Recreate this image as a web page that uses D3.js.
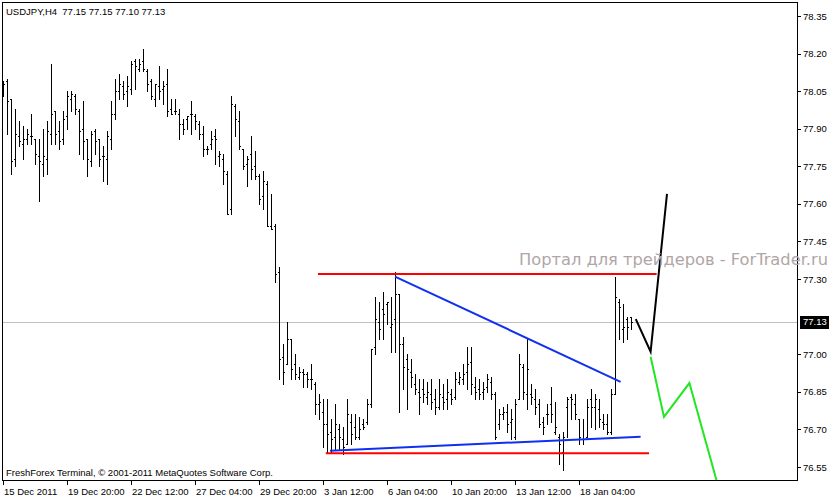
<!DOCTYPE html>
<html>
<head>
<meta charset="utf-8">
<script src="https://cdn.jsdelivr.net/npm/d3@7"></script>
<style>
  body { margin: 0; background: #fff; }
  svg { display: block; }
</style>
</head>
<body>
<div id="chart"></div>
<script>
//Constantes
const width = 835
const height = 498
const frame = { left: 2, top: 2, right: 797, bottom: 480 }

//Donnees
const symbol = "USDJPY,H4"
const dateLabels = ["15 Dec 2011", "19 Dec 20:00", "22 Dec 12:00", "27 Dec 04:00", "29 Dec 20:00",
  "3 Jan 12:00", "6 Jan 04:00", "10 Jan 20:00", "13 Jan 12:00", "18 Jan 04:00"]
const dateIdx = [0, 16, 32, 48, 64, 80, 96, 112, 128, 144]
const priceTicks = [78.35, 78.20, 78.05, 77.90, 77.75, 77.60, 77.45, 77.30, 77.00, 76.85, 76.70, 76.55]
const lastPrice = 77.13

const opens = [78.03, 78.09, 78.02, 77.78, 77.87, 77.84, 77.86, 77.87, 77.86, 77.79,
  77.76, 77.78, 77.88, 77.97, 77.89, 77.86, 77.95, 78.02, 78.03, 77.97,
  77.90, 77.86, 77.77, 77.89, 77.86, 77.79, 77.78, 77.86, 77.96, 78.05,
  78.07, 78.05, 78.06, 78.17, 78.14, 78.17, 78.13, 78.09, 78.02, 78.07,
  78.06, 78.08, 77.98, 77.97, 77.96, 77.92, 77.94, 77.96, 77.95, 77.92,
  77.88, 77.82, 77.84, 77.87, 77.79, 77.78, 77.72, 77.58, 77.99, 77.93,
  77.82, 77.76, 77.80, 77.75, 77.71, 77.63, 77.68, 77.51, 77.51, 77.33,
  76.99, 76.96, 77.06, 76.96, 76.91, 76.93, 76.92, 76.90, 76.88, 76.80,
  76.77, 76.72, 76.69, 76.67, 76.70, 76.66, 76.64, 76.73, 76.71, 76.67,
  76.72, 76.73, 76.80, 77.03, 77.13, 77.18, 77.20, 77.11, 77.14, 77.24,
  77.04, 76.98, 76.93, 76.88, 76.85, 76.86, 76.83, 76.84, 76.82, 76.79,
  76.83, 76.82, 76.84, 76.83, 76.89, 76.90, 76.93, 76.97, 76.87, 76.86,
  76.85, 76.87, 76.89, 76.84, 76.72, 76.76, 76.77, 76.73, 76.67, 76.82,
  76.95, 76.84, 76.84, 76.82, 76.80, 76.73, 76.76, 76.80, 76.69, 76.67,
  76.61, 76.79, 76.83, 76.80, 76.74, 76.66, 76.67, 76.82, 76.79, 76.78,
  76.73, 76.72, 76.69, 76.84, 77.21, 77.10, 77.14, 77.15]
const highs = [78.09, 78.10, 78.02, 77.98, 77.93, 77.91, 77.90, 77.96, 77.86, 77.86,
  77.90, 77.93, 78.16, 77.97, 77.93, 77.97, 78.05, 78.05, 78.04, 77.98,
  78.01, 77.86, 77.89, 77.90, 77.86, 77.83, 77.89, 78.01, 78.10, 78.12,
  78.09, 78.11, 78.17, 78.18, 78.18, 78.22, 78.14, 78.10, 78.08, 78.15,
  78.09, 78.14, 78.02, 78.02, 77.98, 77.94, 77.95, 78.01, 77.96, 77.93,
  77.91, 77.83, 77.89, 77.90, 77.81, 77.80, 77.73, 78.03, 78.00, 77.97,
  77.82, 77.79, 77.87, 77.81, 77.72, 77.73, 77.69, 77.64, 77.52, 77.35,
  77.04, 77.13, 77.06, 77.00, 76.95, 76.94, 76.93, 76.96, 76.89, 76.84,
  76.82, 76.82, 76.74, 76.80, 76.72, 76.71, 76.82, 76.76, 76.76, 76.75,
  76.74, 76.82, 77.02, 77.23, 77.21, 77.25, 77.21, 77.23, 77.33, 77.24,
  77.07, 77.00, 76.98, 76.92, 76.90, 76.90, 76.89, 76.90, 76.86, 76.90,
  76.88, 76.90, 76.86, 76.93, 76.93, 76.96, 77.03, 77.03, 76.91, 76.90,
  76.89, 76.92, 76.91, 76.85, 76.78, 76.79, 76.80, 76.78, 76.82, 77.00,
  76.96, 77.06, 76.88, 76.86, 76.82, 76.75, 76.80, 76.87, 76.81, 76.68,
  76.69, 76.83, 76.84, 76.84, 76.74, 76.74, 76.82, 76.86, 76.84, 76.82,
  76.76, 76.76, 76.86, 77.31, 77.22, 77.20, 77.15, 77.15]
const lows = [78.03, 77.88, 77.72, 77.75, 77.83, 77.78, 77.84, 77.84, 77.76, 77.61,
  77.71, 77.72, 77.84, 77.84, 77.82, 77.84, 77.90, 77.97, 77.96, 77.80,
  77.78, 77.71, 77.75, 77.80, 77.75, 77.69, 77.68, 77.82, 77.94, 78.02,
  78.02, 77.99, 78.04, 78.06, 78.13, 78.13, 78.05, 78.02, 77.99, 78.02,
  78.00, 77.95, 77.96, 77.96, 77.86, 77.88, 77.90, 77.88, 77.90, 77.86,
  77.79, 77.80, 77.82, 77.76, 77.75, 77.68, 77.56, 77.56, 77.87, 77.82,
  77.74, 77.67, 77.70, 77.70, 77.60, 77.58, 77.51, 77.50, 77.29, 76.90,
  76.88, 76.96, 76.90, 76.90, 76.90, 76.87, 76.87, 76.86, 76.76, 76.74,
  76.63, 76.61, 76.61, 76.62, 76.62, 76.60, 76.64, 76.64, 76.66, 76.66,
  76.70, 76.72, 76.79, 77.00, 77.06, 77.06, 77.12, 77.01, 77.01, 76.77,
  76.86, 76.78, 76.87, 76.84, 76.76, 76.81, 76.80, 76.78, 76.76, 76.78,
  76.78, 76.78, 76.80, 76.82, 76.88, 76.88, 76.86, 76.84, 76.82, 76.82,
  76.82, 76.85, 76.82, 76.66, 76.70, 76.74, 76.69, 76.66, 76.66, 76.82,
  76.82, 76.78, 76.80, 76.76, 76.71, 76.68, 76.72, 76.73, 76.68, 76.56,
  76.54, 76.67, 76.74, 76.74, 76.64, 76.64, 76.67, 76.71, 76.70, 76.71,
  76.70, 76.68, 76.68, 76.84, 77.06, 77.05, 77.06, 77.10]
const closes = [78.08, 78.01, 77.77, 77.88, 77.85, 77.86, 77.88, 77.87, 77.80, 77.77,
  77.79, 77.89, 77.96, 77.88, 77.85, 77.94, 78.03, 78.04, 77.98, 77.89,
  77.85, 77.78, 77.88, 77.85, 77.78, 77.79, 77.87, 77.96, 78.05, 78.08,
  78.04, 78.07, 78.16, 78.15, 78.16, 78.14, 78.08, 78.03, 78.08, 78.05,
  78.07, 77.97, 77.96, 77.97, 77.92, 77.90, 77.95, 77.96, 77.93, 77.88,
  77.82, 77.82, 77.86, 77.86, 77.80, 77.73, 77.56, 78.00, 77.94, 77.83,
  77.75, 77.78, 77.74, 77.71, 77.62, 77.69, 77.51, 77.50, 77.32, 76.98,
  76.93, 77.06, 76.94, 76.92, 76.93, 76.92, 76.90, 76.90, 76.80, 76.81,
  76.72, 76.68, 76.66, 76.72, 76.67, 76.63, 76.76, 76.68, 76.67, 76.70,
  76.71, 76.80, 77.02, 77.14, 77.10, 77.16, 77.21, 77.12, 77.24, 77.04,
  76.95, 76.94, 76.91, 76.86, 76.83, 76.84, 76.85, 76.81, 76.79, 76.84,
  76.81, 76.85, 76.82, 76.90, 76.91, 76.92, 76.96, 76.88, 76.85, 76.84,
  76.86, 76.90, 76.84, 76.67, 76.76, 76.77, 76.72, 76.74, 76.80, 76.96,
  76.85, 76.94, 76.83, 76.79, 76.72, 76.71, 76.76, 76.76, 76.71, 76.64,
  76.67, 76.82, 76.82, 76.76, 76.67, 76.66, 76.79, 76.79, 76.82, 76.74,
  76.72, 76.69, 76.84, 77.23, 77.19, 77.11, 77.11, 77.13]

// objets traces sur le graphique : [indice barre, prix]
const redLines = [[[78.75, 77.32], [163.4, 77.32]], [[80.7, 76.605], [161.5, 76.605]]]
const blueLines = [[[98, 77.31], [154.4, 76.89]], [[81.75, 76.615], [159.4, 76.671]]]
const blackPath = [[158.2, 77.14], [161.9, 77.01], [166, 77.64]]
const greenPath = [[161.9, 76.99], [165.25, 76.75], [171.6, 76.885], [178.5, 76.49]]
const watermark = "Портал для трейдеров - ForTrader.ru"
const footer = "FreshForex Terminal, © 2001-2011 MetaQuotes Software Corp."

const bars = opens.map((o, i) => ({ i: i, o: o, h: highs[i], l: lows[i], c: closes[i] }))

const x = d3.scaleLinear().domain([0, 157]).range([3, 631])
const y = d3.scaleLinear().domain([76.55, 78.35]).range([467, 16])

const svg = d3.select("#chart").append("svg")
  .attr("width", width)
  .attr("height", height)
  .style("font-family", "'Liberation Sans', Arial, sans-serif")

svg.append("rect").attr("width", width).attr("height", height).attr("fill", "#fff")

svg.append("clipPath").attr("id", "clip")
  .append("rect")
  .attr("x", frame.left).attr("y", frame.top)
  .attr("width", frame.right - frame.left).attr("height", frame.bottom - frame.top)

// ligne du dernier prix
svg.append("line")
  .attr("x1", frame.left).attr("x2", frame.right)
  .attr("y1", Math.round(y(lastPrice)) + 0.5).attr("y2", Math.round(y(lastPrice)) + 0.5)
  .attr("stroke", "#c0c0c0")

// barres OHLC
const g = svg.append("g").attr("clip-path", "url(#clip)").attr("shape-rendering", "crispEdges")
const bar = g.selectAll("g.bar").data(bars).join("g").attr("class", "bar").attr("fill", "#000")
bar.append("rect")
  .attr("x", d => Math.round(x(d.i)))
  .attr("y", d => Math.round(y(d.h)))
  .attr("width", 1)
  .attr("height", d => Math.max(1, Math.round(y(d.l)) - Math.round(y(d.h)) + 1))
bar.append("rect")
  .attr("x", d => Math.round(x(d.i)) - 1)
  .attr("y", d => Math.round(y(d.o)))
  .attr("width", 1).attr("height", 1)
bar.append("rect")
  .attr("x", d => Math.round(x(d.i)) + 1)
  .attr("y", d => Math.round(y(d.c)))
  .attr("width", 1).attr("height", 1)

// objets
const line = d3.line().x(d => x(d[0])).y(d => y(d[1]))
const obj = svg.append("g").attr("clip-path", "url(#clip)").attr("fill", "none").attr("stroke-width", 2)
redLines.forEach(l => obj.append("path").attr("d", line(l)).attr("stroke", "#ff0000"))
blueLines.forEach(l => obj.append("path").attr("d", line(l)).attr("stroke", "#1030f0"))
obj.append("path").attr("d", line(blackPath)).attr("stroke", "#000")
obj.append("path").attr("d", line(greenPath)).attr("stroke", "#22e622")

// cadre
svg.append("rect")
  .attr("x", frame.left + 0.5).attr("y", frame.top + 0.5)
  .attr("width", frame.right - frame.left).attr("height", frame.bottom - frame.top)
  .attr("fill", "none").attr("stroke", "#000")

// axe des prix
const yAxis = svg.append("g").style("font-size", "9.5px")
yAxis.selectAll("line").data(priceTicks).join("line")
  .attr("x1", frame.right + 0.5).attr("x2", frame.right + 4)
  .attr("y1", d => Math.round(y(d)) + 0.5).attr("y2", d => Math.round(y(d)) + 0.5)
  .attr("stroke", "#000")
yAxis.selectAll("text").data(priceTicks).join("text")
  .attr("x", 803).attr("y", d => y(d) + 3.5)
  .text(d => d.toFixed(2))

yAxis.append("rect")
  .attr("x", 800).attr("y", Math.round(y(lastPrice)) - 6)
  .attr("width", 29).attr("height", 13).attr("fill", "#000")
yAxis.append("text")
  .attr("x", 803).attr("y", y(lastPrice) + 3.5)
  .attr("fill", "#fff")
  .text(lastPrice.toFixed(2))

// axe du temps
const xAxis = svg.append("g").style("font-size", "9.5px")
xAxis.selectAll("line").data(dateIdx).join("line")
  .attr("x1", d => Math.round(x(d)) + 0.5).attr("x2", d => Math.round(x(d)) + 0.5)
  .attr("y1", frame.bottom).attr("y2", frame.bottom + 5)
  .attr("stroke", "#000")
xAxis.selectAll("text").data(dateIdx).join("text")
  .attr("x", d => Math.round(x(d)) + 1).attr("y", 495)
  .text((d, i) => dateLabels[i])

// textes
const last = bars[bars.length - 1]
svg.append("text")
  .attr("x", 6).attr("y", 15)
  .style("font-size", "9.5px")
  .attr("xml:space", "preserve")
  .text(symbol + "  " + [last.o, last.h, last.l, last.c].map(v => v.toFixed(2)).join(" "))

svg.append("text")
  .attr("x", 6).attr("y", 476)
  .style("font-size", "9.5px")
  .text(footer)

svg.append("text")
  .attr("x", 519).attr("y", 265)
  .attr("textLength", 309)
  .attr("lengthAdjust", "spacingAndGlyphs")
  .style("font-family", "'DejaVu Sans', sans-serif")
  .style("font-size", "16px")
  .attr("fill", "#b0a6a6")
  .text(watermark)
</script>
</body>
</html>
